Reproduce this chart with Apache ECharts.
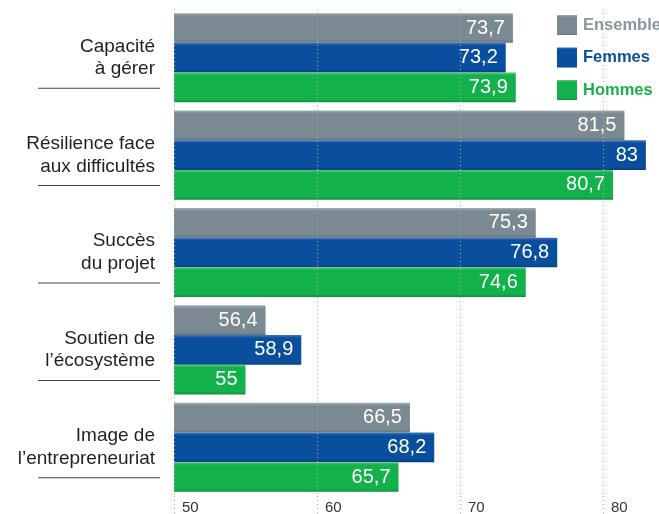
<!DOCTYPE html>
<html><head><meta charset="utf-8">
<script src="https://cdn.jsdelivr.net/npm/echarts@6/dist/echarts.min.js"></script>
<style>html,body{margin:0;padding:0;background:#fff}#c{width:659px;height:514px}</style>
</head><body><div id="c"></div>
<script>
const categories = ['Capacité\nà gérer', 'Résilience face\naux difficultés', 'Succès\ndu projet', 'Soutien de\nl’écosystème', 'Image de\nl’entrepreneuriat'];
const seriesNames = ['Ensemble', 'Femmes', 'Hommes'];
const ensemble = [73.7, 81.5, 75.3, 56.4, 66.5];
const femmes = [73.2, 83, 76.8, 58.9, 68.2];
const hommes = [73.9, 80.7, 74.6, 55, 65.7];
const xTickLabels = [50, 60, 70, 80];
const xRange = {min: 50, max: 85, interval: 10};

const FONT = 'Liberation Sans, Arial, sans-serif';
function grad(top, main, bottom) {
  return new echarts.graphic.LinearGradient(0, 0, 0, 1, [
    {offset: 0, color: top}, {offset: 0.1, color: main},
    {offset: 0.9, color: main}, {offset: 1, color: bottom}
  ]);
}
const colors = [
  grad('#a3aeb4', '#7b8a92', '#66737a'),
  grad('#4273b9', '#0a4f9d', '#083f80'),
  grad('#5ccb7c', '#12b14b', '#0d8f3b')
];
const legendColors = ['#8a969d', '#0b4e9b', '#18b04b'];
const values = [ensemble, femmes, hommes];

const chart = echarts.init(document.getElementById('c'));
chart.setOption({
  animation: false,
  grid: {left: 174, top: 9, width: 500.5, height: 487, outerBoundsMode: 'none', containLabel: false},
  legend: {
    orient: 'vertical', left: 552, top: 10, itemWidth: 20, itemHeight: 20, itemGap: 12.5,
    icon: 'rect',
    data: seriesNames.map((n, i) => ({name: n, textStyle: {color: legendColors[i]}})),
    textStyle: {fontFamily: FONT, fontSize: 16.5, fontWeight: 'bold', padding: [0, 0, 0, 1]}
  },
  xAxis: {
    type: 'value', min: xRange.min, max: xRange.max, interval: xRange.interval, z: 5,
    axisLine: {show: false},
    axisTick: {show: true, length: 18, lineStyle: {color: '#a8a8a8', type: [1, 3], width: 1}},
    splitLine: {show: true, lineStyle: {color: '#b0b0b0', type: [1, 3], width: 1}},
    axisLabel: {
      align: 'left', padding: [0, 0, 0, 8], margin: 4, fontFamily: FONT, fontSize: 15, color: '#333',
      formatter: v => xTickLabels.indexOf(v) >= 0 ? String(v) : ''
    }
  },
  yAxis: {
    type: 'category', data: categories, inverse: true,
    axisLine: {show: false}, axisTick: {show: false},
    axisLabel: {
      margin: 14,
      formatter: v => '{s|}\n' + v.split('\n').map(s => '{t|' + s + '}').join('\n') + '\n{l|}',
      rich: {
        s: {height: 1, lineHeight: 16},
        t: {fontFamily: FONT, fontSize: 19, color: '#231f20', lineHeight: 22.5, padding: [0, 5, 0, 0], align: 'right'},
        l: {width: 122, height: 1, lineHeight: 16, backgroundColor: '#444', align: 'right'}
      }
    }
  },
  series: seriesNames.map((n, i) => ({
    name: n, type: 'bar', data: values[i], barWidth: 29.7, barGap: '0%',
    itemStyle: {color: colors[i]},
    label: {
      show: true, position: 'insideRight', distance: 8, color: '#fff',
      fontFamily: FONT, fontSize: 20,
      formatter: p => String(p.value).replace('.', ',')
    }
  }))
});
</script></body></html>
